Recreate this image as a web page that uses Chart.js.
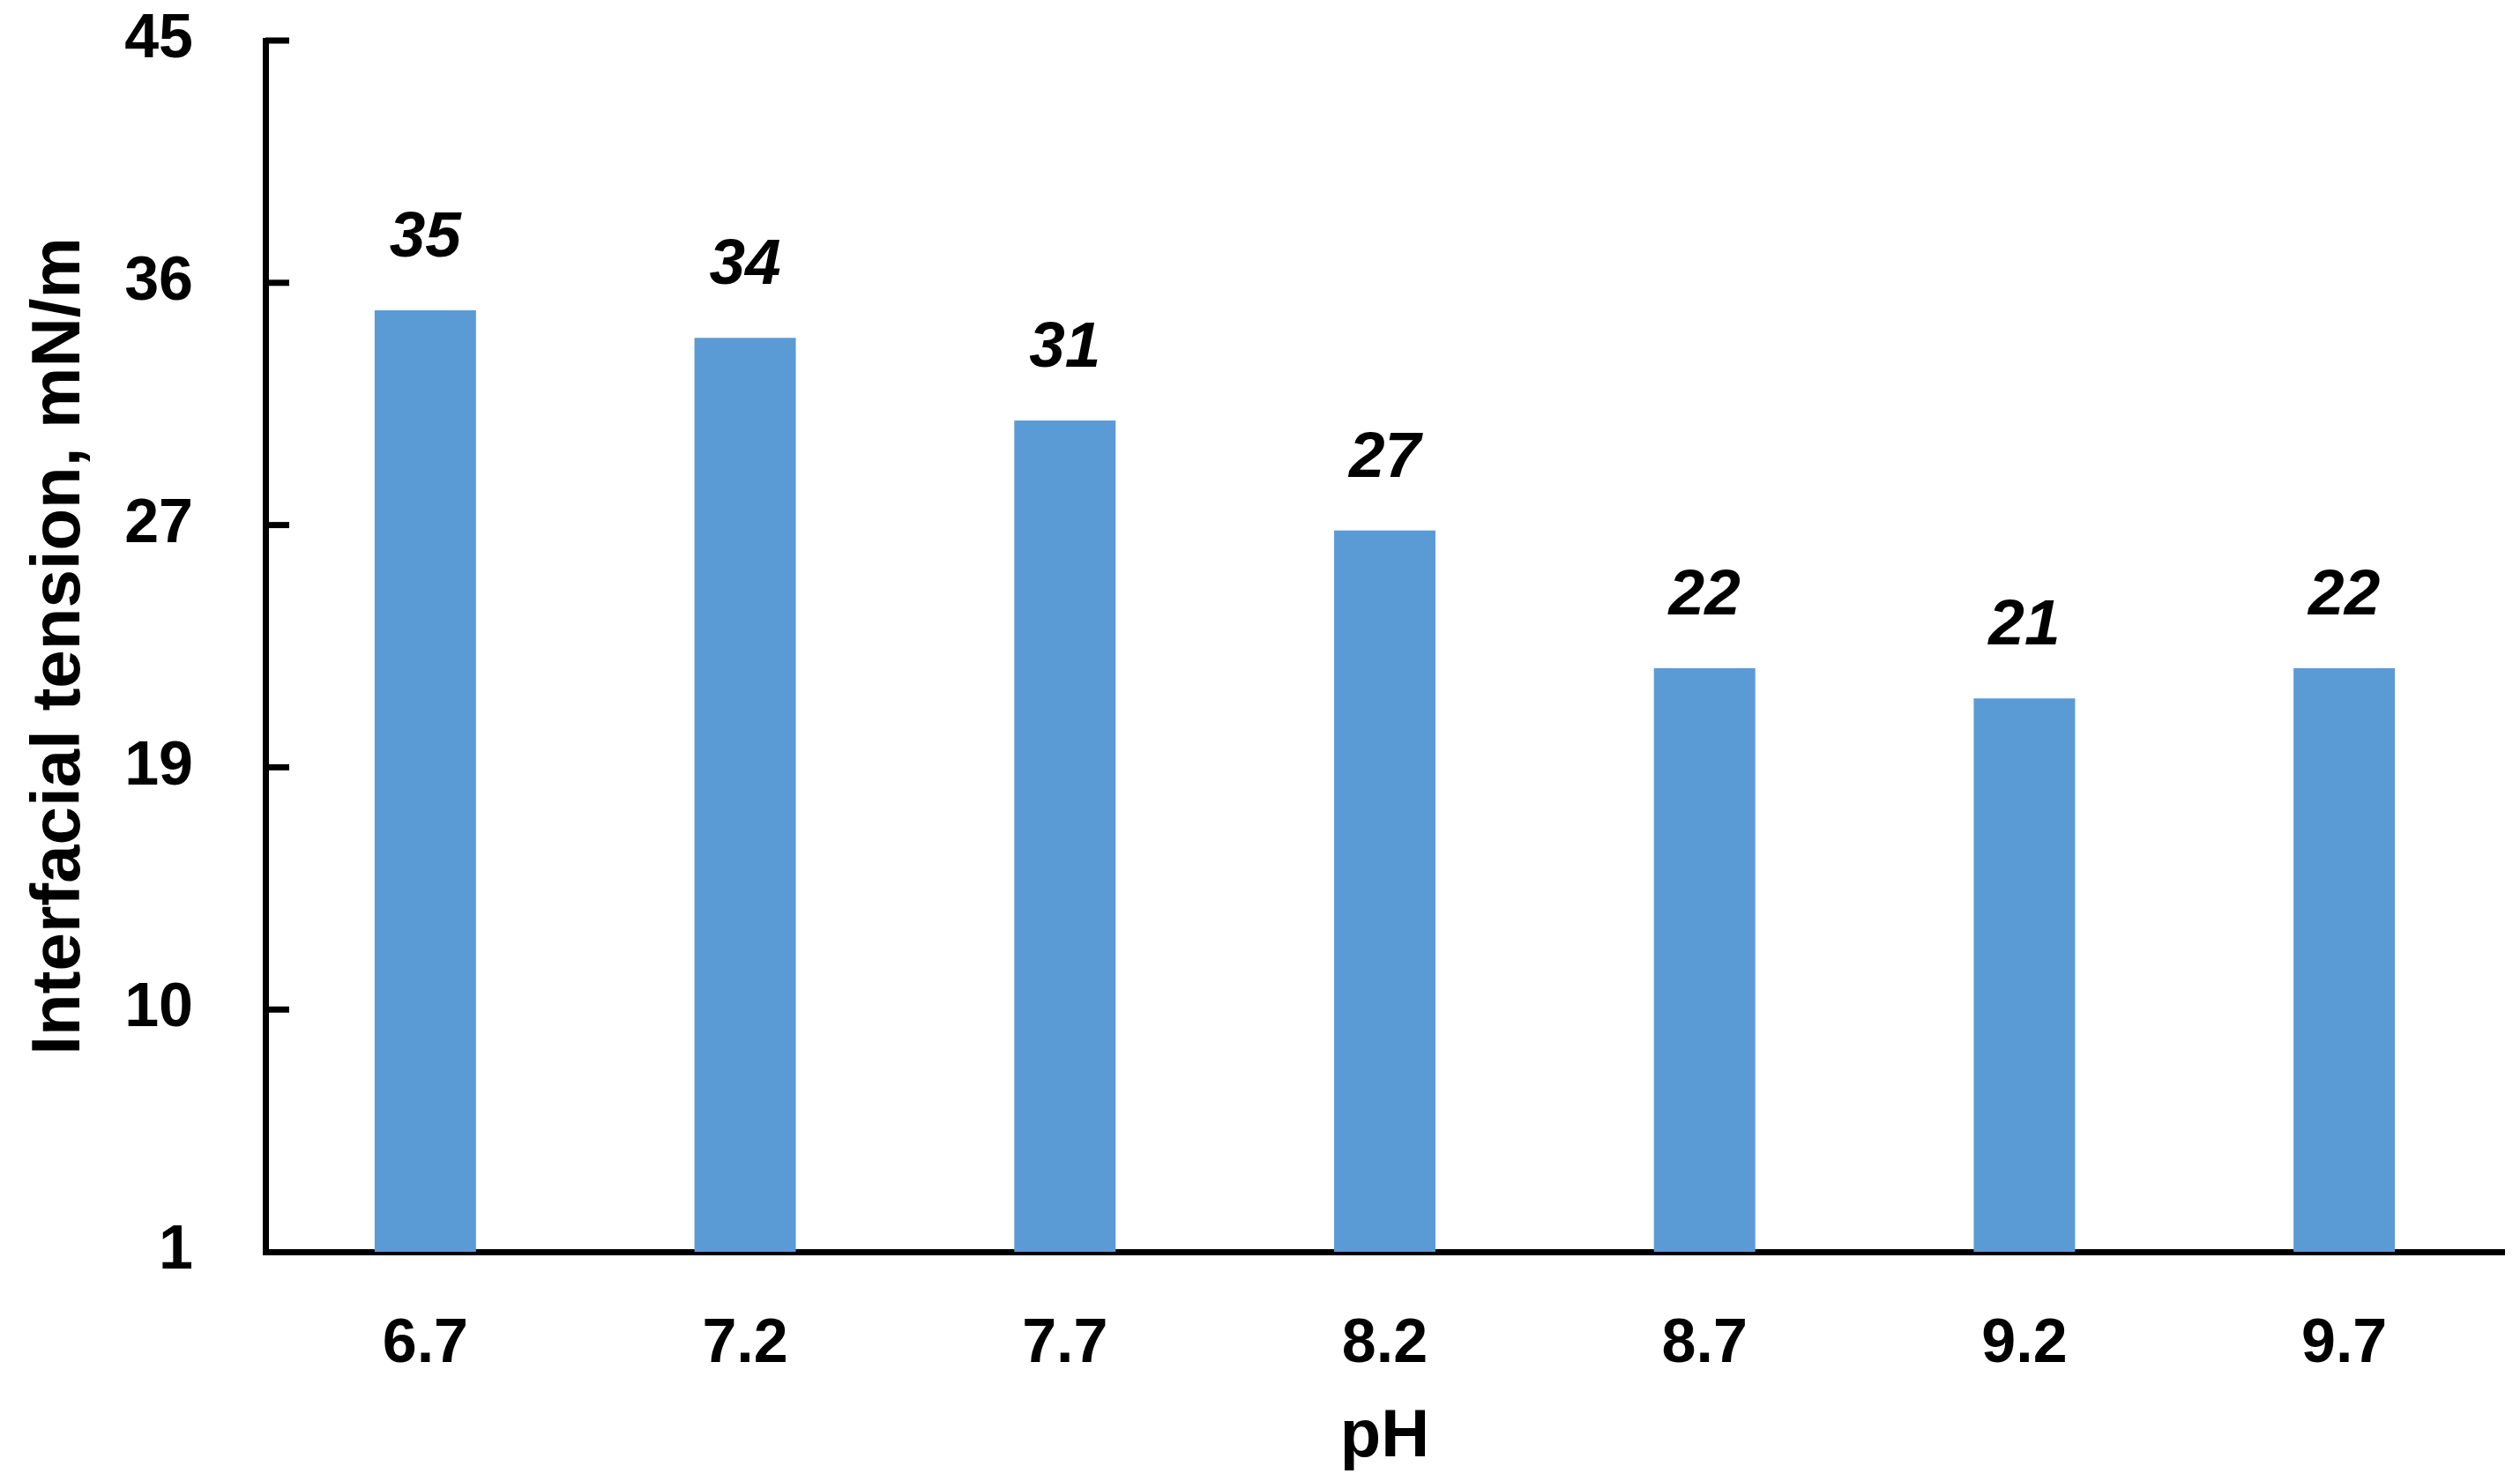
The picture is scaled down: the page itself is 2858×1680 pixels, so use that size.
<!DOCTYPE html>
<html>
<head>
<meta charset="utf-8">
<title>Interfacial tension vs pH</title>
<script src="https://cdn.jsdelivr.net/npm/chart.js"></script>
<style>
  html, body { margin: 0; padding: 0; background: #ffffff; }
  .grafica { width: 2858px; height: 1680px; }
</style>
</head>
<body>
<div class="grafica"><canvas id="grafica-tension"></canvas></div>
<script>
// Datos
const categorias = ['6.7', '7.2', '7.7', '8.2', '8.7', '9.2', '9.7'];
const tension = [35.2, 34.2, 31.2, 27.2, 22.2, 21.1, 22.2];
const ticksY = [1, 9.8, 18.6, 27.4, 36.2, 45];
const etiquetasY = ['1', '10', '19', '27', '36', '45'];

const fuente = '"Liberation Sans", Arial, sans-serif';

// Etiquetas en cursiva encima de cada barra
const etiquetasBarras = {
    id: 'etiquetasBarras',
    afterDatasetsDraw(chart) {
        let ctx = chart.ctx;
        let meta = chart.getDatasetMeta(0);
        ctx.save();
        ctx.font = 'italic bold 73px ' + fuente;
        ctx.fillStyle = '#000000';
        ctx.textAlign = 'center';
        ctx.textBaseline = 'middle';
        meta.data.forEach(function (barra, i) {
            ctx.fillText(String(Math.round(tension[i])), barra.x, barra.y - 81);
        });
        ctx.restore();
    }
};

// Marcas cortas del eje Y hacia dentro
const marcasY = {
    id: 'marcasY',
    afterDraw(chart) {
        let ctx = chart.ctx;
        let escala = chart.scales.y;
        let izq = chart.chartArea.left;
        ctx.save();
        ctx.strokeStyle = '#000000';
        ctx.lineWidth = 7;
        escala.ticks.forEach(function (t, i) {
            if (i === 0) return;
            let y = escala.getPixelForValue(t.value);
            ctx.beginPath();
            ctx.moveTo(izq, y);
            ctx.lineTo(izq + 27, y);
            ctx.stroke();
        });
        ctx.restore();
    }
};

let canvas = document.getElementById('grafica-tension');

new Chart(canvas, {
    type: 'bar',
    data: {
        labels: categorias,
        datasets: [{
            data: tension,
            backgroundColor: '#5B9BD5',
            borderWidth: 0,
            barPercentage: 0.317,
            categoryPercentage: 1
        }]
    },
    options: {
        responsive: true,
        maintainAspectRatio: false,
        animation: false,
        devicePixelRatio: 1,
        layout: {
            padding: { top: 46, right: 18, bottom: 0, left: 0 }
        },
        plugins: {
            legend: { display: false },
            tooltip: { enabled: false }
        },
        scales: {
            x: {
                grid: { display: false, drawTicks: false },
                border: { display: true, color: '#000000', width: 7 },
                ticks: {
                    color: '#000000',
                    padding: 64,
                    font: { family: fuente, size: 70, weight: 'bold' }
                },
                title: {
                    display: true,
                    text: 'pH',
                    color: '#000000',
                    padding: { top: 0, bottom: 3 },
                    font: { family: fuente, size: 76, weight: 'bold' }
                },
                afterFit: function (escala) {
                    escala.height = 260;
                    escala.paddingLeft = 0;
                    escala.paddingRight = 0;
                }
            },
            y: {
                min: 1,
                max: 45,
                grid: { display: false, drawTicks: false },
                border: { display: true, color: '#000000', width: 7 },
                afterBuildTicks: function (escala) {
                    escala.ticks = ticksY.map(function (v) { return { value: v }; });
                },
                ticks: {
                    color: '#000000',
                    padding: 82,
                    font: { family: fuente, size: 70, weight: 'bold' },
                    callback: function (valor, i) { return etiquetasY[i]; }
                },
                title: {
                    display: true,
                    text: 'Interfacial tension, mN/m',
                    color: '#000000',
                    padding: { top: 22, bottom: 0 },
                    font: { family: fuente, size: 78, weight: 'bold' }
                },
                afterFit: function (escala) {
                    escala.width = 301;
                    escala.paddingTop = 0;
                    escala.paddingBottom = 0;
                }
            }
        }
    },
    plugins: [etiquetasBarras, marcasY]
});
</script>
</body>
</html>
